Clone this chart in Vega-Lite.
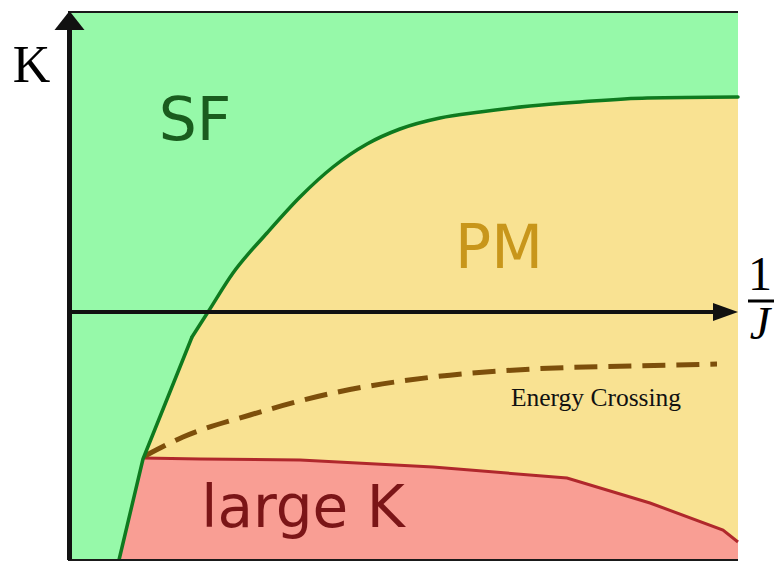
{
  "$schema": "https://vega.github.io/schema/vega-lite/v6.json",
  "width": 670,
  "height": 548,
  "autosize": {"type": "none"},
  "padding": {"left": 68, "top": 12, "right": 37, "bottom": 5},
  "background": "white",
  "view": {"fill": "#f9e292", "stroke": null},
  "config": {"axis": {"disable": true}},
  "datasets": {
    "sf_lower": [
      {"x": 0, "k": 0, "onLine": false},
      {"x": 51, "k": 0, "onLine": true},
      {"x": 75, "k": 101, "onLine": true},
      {"x": 124, "k": 223, "onLine": true}
    ],
    "sf_upper": [
      {"x": 124, "k": 223},
      {"x": 140, "k": 248},
      {"x": 165, "k": 287},
      {"x": 199, "k": 327},
      {"x": 232, "k": 363},
      {"x": 265, "k": 393},
      {"x": 299, "k": 416},
      {"x": 332, "k": 431},
      {"x": 372, "k": 442},
      {"x": 412, "k": 448},
      {"x": 462, "k": 454},
      {"x": 512, "k": 458},
      {"x": 579, "k": 462},
      {"x": 670, "k": 463}
    ],
    "largeK_boundary": [
      {"x": 51, "k": 0, "onLine": false},
      {"x": 75, "k": 102, "onLine": true},
      {"x": 132, "k": 101, "onLine": true},
      {"x": 232, "k": 100, "onLine": true},
      {"x": 365, "k": 93, "onLine": true},
      {"x": 499, "k": 82, "onLine": true},
      {"x": 582, "k": 57, "onLine": true},
      {"x": 655, "k": 30, "onLine": true},
      {"x": 670, "k": 18, "onLine": true}
    ],
    "crossing": [
      {"x": 77, "k": 104},
      {"x": 115, "k": 123},
      {"x": 182, "k": 145},
      {"x": 265, "k": 167},
      {"x": 365, "k": 183},
      {"x": 465, "k": 191},
      {"x": 565, "k": 194},
      {"x": 649, "k": 196}
    ]
  },
  "layer": [
    {
      "data": {"name": "sf_lower"},
      "mark": {"type": "area", "color": "#96f9a9", "line": false, "interpolate": "linear"},
      "encoding": {
        "x": {"field": "x", "type": "quantitative", "scale": {"domain": [0, 670], "nice": false, "zero": false}},
        "y": {"field": "k", "type": "quantitative", "scale": {"domain": [0, 548], "nice": false, "zero": false}},
        "y2": {"datum": 548}
      }
    },
    {
      "data": {"name": "sf_upper"},
      "mark": {"type": "area", "color": "#96f9a9", "line": false, "interpolate": "monotone"},
      "encoding": {
        "x": {"field": "x", "type": "quantitative"},
        "y": {"field": "k", "type": "quantitative"},
        "y2": {"datum": 548}
      }
    },
    {
      "data": {"name": "largeK_boundary"},
      "mark": {"type": "area", "color": "#f99e94", "line": false},
      "encoding": {
        "x": {"field": "x", "type": "quantitative"},
        "y": {"field": "k", "type": "quantitative"},
        "y2": {"datum": 0}
      }
    },
    {
      "data": {"name": "largeK_boundary"},
      "transform": [{"filter": "datum.onLine"}],
      "mark": {"type": "line", "color": "#b0282c", "strokeWidth": 3},
      "encoding": {
        "x": {"field": "x", "type": "quantitative"},
        "y": {"field": "k", "type": "quantitative"}
      }
    },
    {
      "data": {"name": "crossing"},
      "mark": {"type": "line", "color": "#7d4f0b", "strokeWidth": 5, "strokeDash": [23, 11], "interpolate": "monotone"},
      "encoding": {
        "x": {"field": "x", "type": "quantitative"},
        "y": {"field": "k", "type": "quantitative"}
      }
    },
    {
      "data": {"name": "sf_lower"},
      "transform": [{"filter": "datum.onLine"}],
      "mark": {"type": "line", "color": "#0e7a1f", "strokeWidth": 3.5, "strokeJoin": "round"},
      "encoding": {
        "x": {"field": "x", "type": "quantitative"},
        "y": {"field": "k", "type": "quantitative"}
      }
    },
    {
      "data": {"name": "sf_upper"},
      "mark": {"type": "line", "color": "#0e7a1f", "strokeWidth": 3.5, "interpolate": "monotone", "strokeCap": "round"},
      "encoding": {
        "x": {"field": "x", "type": "quantitative"},
        "y": {"field": "k", "type": "quantitative"}
      }
    },
    {
      "data": {"values": [
        {"x": 0, "x2": 670, "k": 548, "w": "top"},
        {"x": 0, "x2": 670, "k": 0, "w": "bottom"}
      ]},
      "mark": {"type": "rule", "color": "#1a1a1a", "strokeWidth": 2},
      "encoding": {
        "x": {"field": "x", "type": "quantitative"},
        "x2": {"field": "x2"},
        "y": {"field": "k", "type": "quantitative"}
      }
    },
    {
      "data": {"values": [{"x": 0, "x2": 650, "k": 248}]},
      "mark": {"type": "rule", "color": "#111111", "strokeWidth": 4},
      "encoding": {
        "x": {"field": "x", "type": "quantitative"},
        "x2": {"field": "x2"},
        "y": {"field": "k", "type": "quantitative"}
      }
    },
    {
      "data": {"values": [{"x": 1.5, "k": 0, "k2": 532}]},
      "mark": {"type": "rule", "color": "#111111", "strokeWidth": 5},
      "encoding": {
        "x": {"field": "x", "type": "quantitative"},
        "y": {"field": "k", "type": "quantitative"},
        "y2": {"field": "k2"}
      }
    },
    {
      "data": {"values": [{"x": 657.5, "k": 248}]},
      "mark": {"type": "point", "shape": "M-1,-0.72L1,0L-1,0.72Z", "size": 625, "filled": true, "color": "#111111", "opacity": 1, "strokeWidth": 0},
      "encoding": {
        "x": {"field": "x", "type": "quantitative"},
        "y": {"field": "k", "type": "quantitative"}
      }
    },
    {
      "data": {"values": [{"x": 1.5, "k": 539.5}]},
      "mark": {"type": "point", "shape": "M0,-0.633L1,0.633L-1,0.633Z", "size": 900, "filled": true, "color": "#111111", "opacity": 1, "strokeWidth": 0},
      "encoding": {
        "x": {"field": "x", "type": "quantitative"},
        "y": {"field": "k", "type": "quantitative"}
      }
    },
    {
      "data": {"values": [{"x": 680, "x2": 706, "k": 259}]},
      "mark": {"type": "rule", "color": "#000000", "strokeWidth": 3},
      "encoding": {
        "x": {"field": "x", "type": "quantitative"},
        "x2": {"field": "x2"},
        "y": {"field": "k", "type": "quantitative"}
      }
    },
    {
      "data": {"values": [{"label": "SF", "x": 127, "k": 420}]},
      "mark": {"type": "text", "font": "DejaVu Sans", "fontSize": 60, "color": "#1a5c1e", "align": "center", "baseline": "alphabetic"},
      "encoding": {
        "x": {"field": "x", "type": "quantitative"},
        "y": {"field": "k", "type": "quantitative"},
        "text": {"field": "label"}
      }
    },
    {
      "data": {"values": [{"label": "PM", "x": 431, "k": 292}]},
      "mark": {"type": "text", "font": "DejaVu Sans", "fontSize": 60, "color": "#c8961b", "align": "center", "baseline": "alphabetic"},
      "encoding": {
        "x": {"field": "x", "type": "quantitative"},
        "y": {"field": "k", "type": "quantitative"},
        "text": {"field": "label"}
      }
    },
    {
      "data": {"values": [{"label": "large K", "x": 235, "k": 33}]},
      "mark": {"type": "text", "font": "DejaVu Sans", "fontSize": 58, "color": "#7b1517", "align": "center", "baseline": "alphabetic"},
      "encoding": {
        "x": {"field": "x", "type": "quantitative"},
        "y": {"field": "k", "type": "quantitative"},
        "text": {"field": "label"}
      }
    },
    {
      "data": {"values": [{"label": "Energy Crossing", "x": 528, "k": 154}]},
      "mark": {"type": "text", "font": "Liberation Serif", "fontSize": 25.5, "color": "#111111", "align": "center", "baseline": "alphabetic"},
      "encoding": {
        "x": {"field": "x", "type": "quantitative"},
        "y": {"field": "k", "type": "quantitative"},
        "text": {"field": "label"}
      }
    },
    {
      "data": {"values": [{"label": "K", "x": -36.5, "k": 478}]},
      "mark": {"type": "text", "font": "Liberation Serif", "fontSize": 52, "color": "#000000", "align": "center", "baseline": "alphabetic"},
      "encoding": {
        "x": {"field": "x", "type": "quantitative"},
        "y": {"field": "k", "type": "quantitative"},
        "text": {"field": "label"}
      }
    },
    {
      "data": {"values": [{"label": "1", "x": 692, "k": 270}]},
      "mark": {"type": "text", "font": "Liberation Serif", "fontSize": 48, "color": "#000000", "align": "center", "baseline": "alphabetic"},
      "encoding": {
        "x": {"field": "x", "type": "quantitative"},
        "y": {"field": "k", "type": "quantitative"},
        "text": {"field": "label"}
      }
    },
    {
      "data": {"values": [{"label": "J", "x": 692, "k": 221}]},
      "mark": {"type": "text", "font": "Liberation Serif", "fontStyle": "italic", "fontSize": 46, "color": "#000000", "align": "center", "baseline": "alphabetic"},
      "encoding": {
        "x": {"field": "x", "type": "quantitative"},
        "y": {"field": "k", "type": "quantitative"},
        "text": {"field": "label"}
      }
    }
  ]
}
